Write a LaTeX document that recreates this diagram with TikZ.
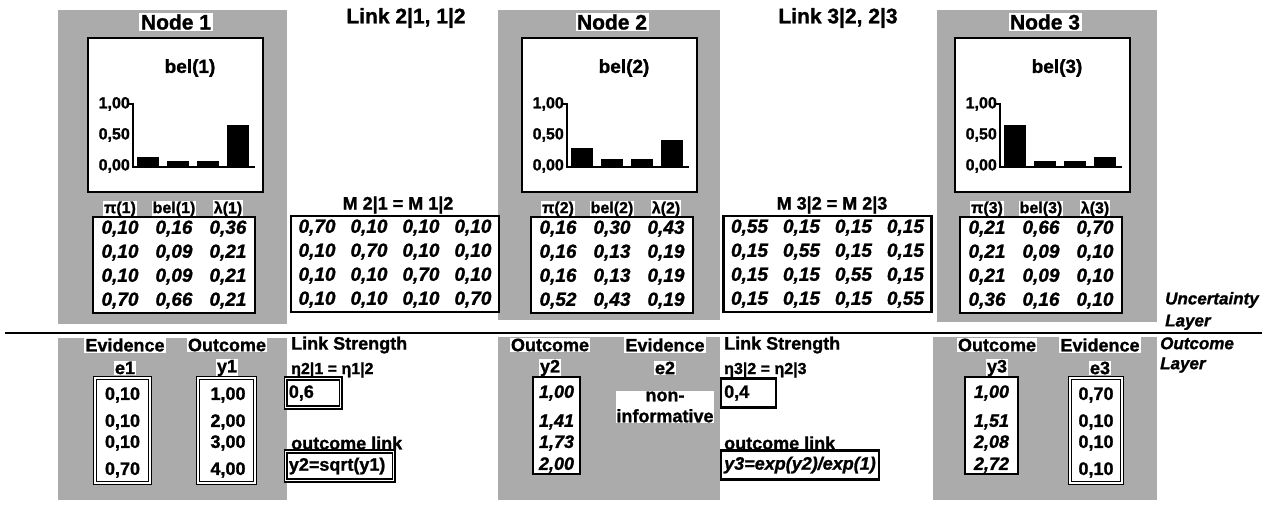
\documentclass[tikz,border=0pt]{standalone}
\usepackage{fontspec}
\setmainfont{Liberation Sans}[BoldFeatures={FakeBold=1.2}, BoldItalicFeatures={FakeBold=1.2}]

\begin{document}
\begin{tikzpicture}[x=1pt, y=-1pt,
    declare function={
        u = 63;
      },
    panel/.style={fill=black!33},
    nodetitle/.style={font=\fontsize{21}{24}\selectfont\bfseries, fill=white, inner sep=1.5pt},
    linktitle/.style={font=\fontsize{21}{24}\selectfont\bfseries},
    chartbox/.style={draw, line width=2.5pt, fill=white, minimum width=175, minimum height=154, inner sep=0pt},
    belname/.style={font=\fontsize{19}{21}\selectfont\bfseries},
    ticklbl/.style={font=\fontsize{16}{18}\selectfont\bfseries, anchor=east, inner sep=1pt},
    colhead/.style={font=\fontsize{16}{19}\selectfont\bfseries, fill=white, inner sep=1pt},
    mhead/.style={font=\fontsize{18}{20}\selectfont\bfseries},
    valtab/.style={draw, line width=2.5pt, fill=white, inner sep=0pt,
        font=\fontsize{19}{24}\selectfont\bfseries\itshape,
        execute at begin node={\setlength\tabcolsep{#1}}},
    lbl/.style={font=\fontsize{18}{21}\selectfont\bfseries, fill=white, inner sep=1pt},
    val/.style={font=\fontsize{18}{20}\selectfont\bfseries, inner sep=0pt},
    ival/.style={font=\fontsize{18}{20}\selectfont\bfseries\itshape, inner sep=0pt},
    dbox/.style={draw, double, double distance=1.2pt, line width=1.7pt, fill=white, inner sep=0pt},
    sbox/.style={draw, line width=2.4pt, fill=white, inner sep=0pt},
    strtext/.style={font=\fontsize{18}{20}\selectfont\bfseries, anchor=west, inner sep=0pt},
    eta/.style={font=\fontsize{16}{18}\selectfont\bfseries, anchor=west, inner sep=0pt},
    strbox/.style={anchor=west, align=left, inner sep=3pt, minimum height=29,
        font=\fontsize{18}{20}\selectfont\bfseries},
    layer/.style={font=\fontsize{17}{22}\selectfont\bfseries\itshape, anchor=west, align=left, inner sep=0pt}
  ]
  \useasboundingbox (0,0) rectangle (1273,505);
  % shaded node panels
  \fill[panel] (58,10) rectangle (287,324);
  \fill[panel] (498,10) rectangle (720,320);
  \fill[panel] (937,10) rectangle (1157,322);
  \fill[panel] (58,338) rectangle (287,500);
  \fill[panel] (498,337) rectangle (720,500);
  \fill[panel] (933,337) rectangle (1157,500);
  \draw[line width=2.5pt] (5,333) -- (1262,333);

  % uncertainty layer
  \node[nodetitle] (node1) at (176,22) {Node 1};
  \node[nodetitle] (node2) at (612,22) {Node 2};
  \node[nodetitle] (node3) at (1045,22) {Node 3};
  \node[linktitle] (link21) at (406,18) {Link 2|1, 1|2};
  \node[linktitle] (link32) at (838,18) {Link 3|2, 2|3};

  \foreach \n/\x/\a/\b/\c/\d in {1/88/0.16/0.09/0.09/0.66,
      2/522/0.30/0.13/0.13/0.43, 3/955/0.66/0.09/0.09/0.16} {
    \node[chartbox] (chart\n) at (\x+87.5,115) {};
    \node[belname] (bel\n) at (\x+102,68) {bel(\n)};
    \draw[line width=1.5pt] (\x+41,104) -- (\x+45,104) -- (\x+45,167) -- (\x+167,167);
    \foreach \t/\h [count=\i] in {{1,00}/104, {0,50}/135, {0,00}/166}
      \node[ticklbl] (tick\n\i) at (\x+43,\h) {\t};
    \foreach \v [count=\i] in {\a,\b,\c,\d}
      \fill (\x+19+30*\i,167) rectangle ++(22,-u*\v);
  }

  \foreach \n/\x in {1/174, 2/612, 3/1041}
    \foreach \t [count=\i] in {π(\n), bel(\n), λ(\n)}
      \node[colhead] (head\n\i) at (\x+54*\i-108,209) {\t};

  \node[valtab=8.5pt] (tab1) at (174,265) {\begin{tabular}{ccc}
      0,10 & 0,16 & 0,36\\ 0,10 & 0,09 & 0,21\\
      0,10 & 0,09 & 0,21\\ 0,70 & 0,66 & 0,21\end{tabular}};
  \node[valtab=8.5pt] (tab2) at (612,265) {\begin{tabular}{ccc}
      0,16 & 0,30 & 0,43\\ 0,16 & 0,13 & 0,19\\
      0,16 & 0,13 & 0,19\\ 0,52 & 0,43 & 0,19\end{tabular}};
  \node[valtab=8.5pt] (tab3) at (1041,265) {\begin{tabular}{ccc}
      0,21 & 0,66 & 0,70\\ 0,21 & 0,09 & 0,10\\
      0,21 & 0,09 & 0,10\\ 0,36 & 0,16 & 0,10\end{tabular}};

  \node[mhead] (m21) at (398,205) {M 2|1 = M 1|2};
  \node[valtab=7.5pt] (mat21) at (395,264) {\begin{tabular}{cccc}
      0,70 & 0,10 & 0,10 & 0,10\\ 0,10 & 0,70 & 0,10 & 0,10\\
      0,10 & 0,10 & 0,70 & 0,10\\ 0,10 & 0,10 & 0,10 & 0,70\end{tabular}};
  \node[mhead] (m32) at (832,205) {M 3|2 = M 2|3};
  \node[valtab=7.5pt] (mat32) at (827.5,264) {\begin{tabular}{cccc}
      0,55 & 0,15 & 0,15 & 0,15\\ 0,15 & 0,55 & 0,15 & 0,15\\
      0,15 & 0,15 & 0,55 & 0,15\\ 0,15 & 0,15 & 0,15 & 0,55\end{tabular}};

  \node[layer] (ulayer) at (1165,311) {Uncertainty\\Layer};

  % outcome layer
  \node[layer, font=\fontsize{17}{20}\selectfont\bfseries\itshape] (olayer) at (1160,355) {Outcome\\Layer};

  \node[lbl] (evid1) at (125,345) {Evidence};
  \node[lbl] (e1) at (125,368) {e1};
  \node[lbl] (outc1) at (227,345) {Outcome};
  \node[lbl] (y1) at (227,368) {y1};
  \node[dbox, minimum width=55, minimum height=105] (e1box) at (122.5,430.5) {};
  \node[dbox, minimum width=57, minimum height=105] (y1box) at (226.5,430.5) {};
  \foreach \e/\o/\h [count=\i] in {{0,10}/{1,00}/395, {0,10}/{2,00}/422,
      {0,10}/{3,00}/443, {0,70}/{4,00}/470} {
    \node[val] (e1v\i) at (122.5,\h) {\e};
    \node[val] (y1v\i) at (228,\h) {\o};
  }

  \node[strtext] (lstr1) at (291,345) {Link Strength};
  \node[eta] (eta1) at (291,370) {η2|1 = η1|2};
  \node[dbox, strbox, text width=49] (eta1box) at (285,393) {0,6};
  \node[strtext] (olink1) at (291,443) {outcome link};
  \node[dbox, strbox, text width=102] (olink1box) at (285,466) {y2=sqrt(y1)};

  \node[lbl] (outc2) at (550,345) {Outcome};
  \node[lbl] (y2) at (550,368) {y2};
  \node[sbox, minimum width=47, minimum height=97] (y2box) at (556.5,425.5) {};
  \node[lbl] (evid2) at (665,345) {Evidence};
  \node[lbl] (e2) at (665,368) {e2};
  \node[lbl, align=center, inner sep=0.5pt] (e2txt) at (665,407) {non-\\informative};

  \node[strtext] (lstr2) at (724,345) {Link Strength};
  \node[eta] (eta2) at (724,370) {η3|2 = η2|3};
  \node[sbox, strbox, text width=49] (eta2box) at (720,393) {0,4};
  \node[strtext] (olink2) at (724,443) {outcome link};
  \node[sbox, strbox, text width=152, font=\fontsize{18}{20}\selectfont\bfseries\itshape]
    (olink2box) at (720,465) {y3=exp(y2)/exp(1)};

  \node[lbl] (outc3) at (997,345) {Outcome};
  \node[lbl] (y3) at (997,368) {y3};
  \node[sbox, minimum width=53, minimum height=97] (y3box) at (991.5,425.5) {};
  \node[lbl] (evid3) at (1100,345) {Evidence};
  \node[lbl] (e3) at (1100,368) {e3};
  \node[dbox, minimum width=52, minimum height=105] (e3box) at (1096,430.5) {};

  \foreach \p/\q/\h [count=\i] in {{1,00}/{1,00}/393, {1,41}/{1,51}/422,
      {1,73}/{2,08}/443, {2,00}/{2,72}/465} {
    \node[ival] (y2v\i) at (556.5,\h) {\p};
    \node[ival] (y3v\i) at (991.5,\h) {\q};
  }
  \foreach \e/\h [count=\i] in {{0,70}/395, {0,10}/422, {0,10}/443, {0,10}/470}
    \node[val] (e3v\i) at (1096,\h) {\e};
\end{tikzpicture}
\end{document}
